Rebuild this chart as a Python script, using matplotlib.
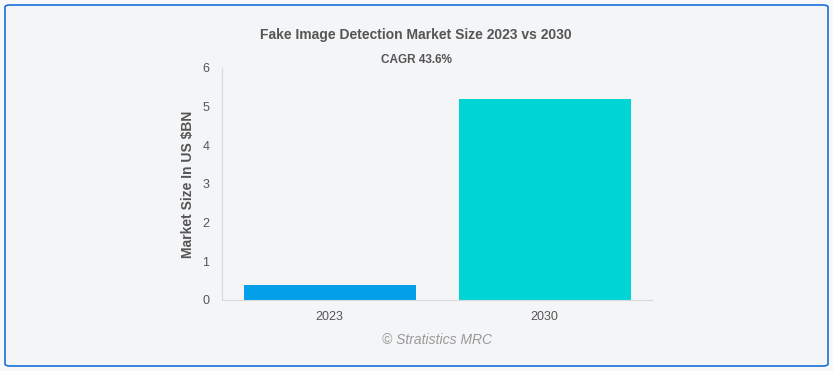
import matplotlib
matplotlib.use("Agg")
import matplotlib.pyplot as plt
from matplotlib.patches import FancyBboxPatch

plt.rcParams["font.family"] = ["Liberation Sans", "DejaVu Sans"]

categories = ["2023", "2030"]
values = [0.38, 5.2]
colors = ["#03a0e9", "#00d5d6"]
yticks = [0, 1, 2, 3, 4, 5, 6]

W, H = 833, 371
fig = plt.figure(figsize=(W/100, H/100), dpi=100)
fig.patch.set_facecolor("#f7f8fa")

border = FancyBboxPatch((5/W, 5/H), 823/W, 361/H, boxstyle="round,pad=0,rounding_size=0.006",
                        transform=fig.transFigure, facecolor="#f4f5f7", edgecolor="#1a6fd8",
                        linewidth=1.2, zorder=-5)
fig.patches.append(border)

ax = fig.add_axes([222/W, 1-300/H, (652-222)/W, (300-68)/H])
ax.set_zorder(2)
ax.set_facecolor("none")
x = list(range(len(categories)))
ax.bar(x, values, width=0.8, color=colors, zorder=2)
ax.set_xlim(-0.5, 1.5)
ax.set_ylim(0, 6)
ax.set_yticks(yticks)
ax.set_xticks(x)
ax.set_xticklabels(categories)
ax.tick_params(axis="both", length=0, labelsize=9, colors="#555555")
ax.tick_params(axis="y", pad=9)
ax.tick_params(axis="x", pad=8)
for s in ["top", "right"]:
    ax.spines[s].set_visible(False)
ax.spines["left"].set_color("#d8d8d8")
ax.spines["bottom"].set_color("#d8d8d8")
ax.set_ylabel("Market Size In US $BN", fontsize=10, fontweight="bold", color="#555555")
ax.yaxis.set_label_coords((195-222)/430, 0.5)

fig.text(416/W, 1-35/H, "Fake Image Detection Market Size 2023 vs 2030", ha="center", va="center",
         fontsize=10, fontweight="bold", color="#555555")
fig.text(416/W, 1-60/H, "CAGR 43.6%", ha="center", va="center",
         fontsize=8.5, fontweight="bold", color="#555555")
fig.text(437/W, 1-340/H, "© Stratistics MRC", ha="center", va="center",
         fontsize=10, style="italic", color="#999999")

fig.savefig("out.png", dpi=100, facecolor=fig.get_facecolor())
